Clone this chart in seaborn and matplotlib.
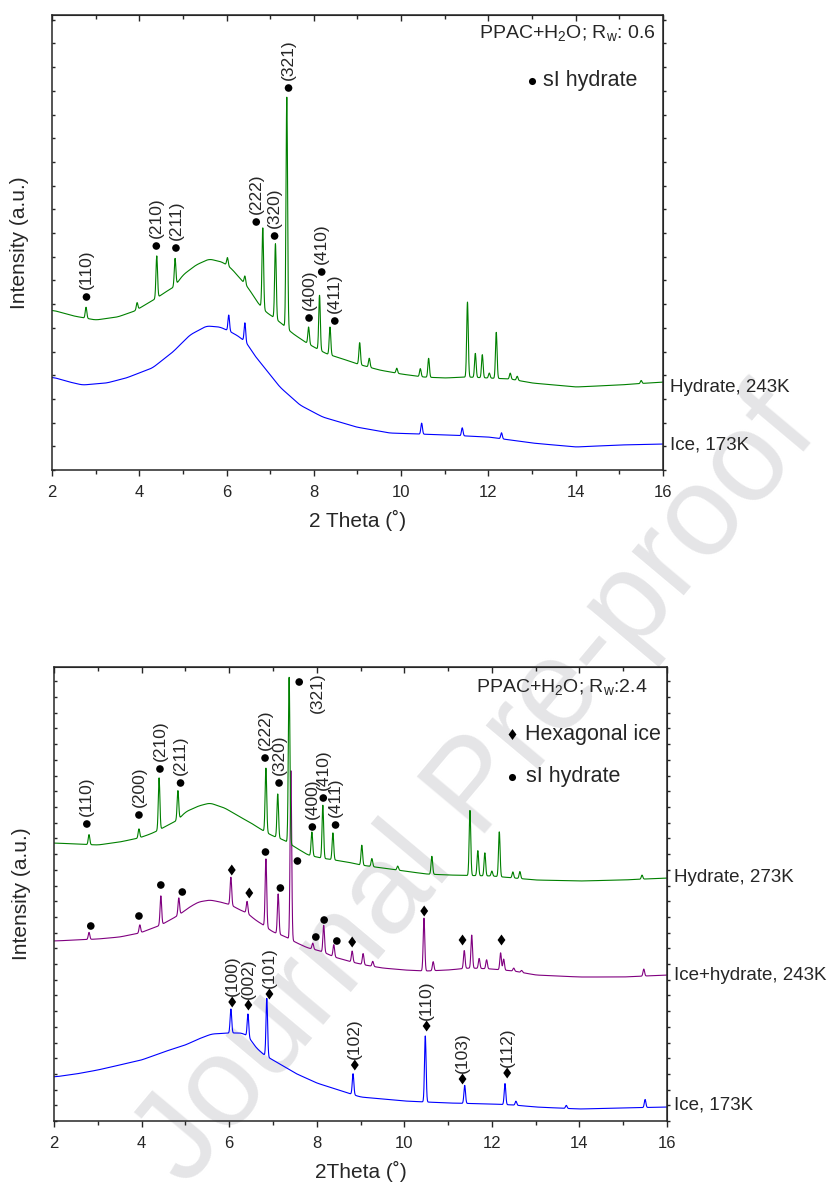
import numpy as np
import pandas as pd
import matplotlib
matplotlib.use("Agg")
import matplotlib.pyplot as plt
import seaborn as sns
from matplotlib.ticker import MultipleLocator
from matplotlib.path import Path

# ---------------- data ----------------
# Top panel (PPAC+H2O, Rw 0.6)
top_hyd_bg_x = [2.0, 2.5, 3.0, 3.5, 3.9, 4.2, 4.4, 4.6, 4.8, 5.0, 5.3, 5.6, 5.9, 6.1, 6.3, 6.5, 6.7, 6.9,
                7.1, 7.3, 7.5, 7.8, 8.0, 8.3, 8.6, 9.0, 9.5, 10.0, 10.5, 11.0, 11.5, 12.0, 12.5, 13.0, 14.0, 15.0, 16.0]
top_hyd_bg_y = [160, 154, 150, 153, 159, 167, 172, 178, 183, 195, 205, 211, 208, 202, 192, 182, 168, 158,
                152, 145, 137, 128, 123, 116, 112, 106, 100, 96, 93, 92, 93, 92, 91, 87, 83, 85, 88]
top_hyd_pk_x = [2.78, 3.95, 4.40, 4.82, 6.02, 6.42, 6.83, 7.12, 7.38, 7.88, 8.13, 8.37, 9.05, 9.27, 9.90,
                10.44, 10.63, 11.52, 11.70, 11.86, 12.02, 12.18, 12.50, 12.66, 15.50]
top_hyd_pk_h = [11, 7, 42, 27, 8, 8, 81, 75, 231, 17, 55, 28, 22, 9, 5, 8, 19, 75, 24, 23, 5, 46, 6, 4, 3]

top_ice_bg_x = [2.0, 2.4, 2.7, 3.25, 3.7, 4.3, 4.77, 5.16, 5.54, 5.85, 6.1, 6.3, 6.5, 6.6, 6.91, 7.22, 7.68,
                8.2, 8.97, 9.73, 10.4, 11.0, 11.5, 12.0, 12.5, 13.0, 14.0, 15.0, 16.0]
top_ice_bg_y = [93, 88, 85, 87, 92, 102, 118, 135, 144, 143, 138, 133, 125, 117, 100, 83, 65,
                53, 43, 37, 36, 35, 34, 33, 30, 27, 23, 25, 26]
top_ice_pk_x = [6.05, 6.42, 10.47, 11.40, 12.30]
top_ice_pk_h = [16, 19, 11, 8, 6]

top_dot_x = [2.79, 4.39, 4.84, 6.68, 7.10, 7.42, 7.89, 8.18, 8.48]
top_dot_y = [173, 224, 222, 248, 234, 382, 152, 198, 149]
top_dot_lab = ["(110)", "(210)", "(211)", "(222)", "(320)", "(321)", "(400)", "(410)", "(411)"]

top_curve_names = ["Hydrate, 243K", "Ice, 173K"]
top_curve_name_y = [83, 25]

# Bottom panel (PPAC+H2O, Rw 2.4)
bot_hyd_bg_x = [2.0, 2.5, 3.0, 3.5, 3.94, 4.2, 4.4, 4.6, 4.83, 5.0, 5.3, 5.56, 5.9, 6.25, 6.5, 6.75, 7.0, 7.25,
                7.5, 7.8, 8.1, 8.4, 8.7, 9.0, 9.5, 10.0, 10.5, 11.0, 12.0, 12.5, 13.0, 14.0, 15.0, 16.0]
bot_hyd_bg_y = [278, 277, 276, 279, 283, 287, 291, 296, 301, 309, 315, 318, 313, 304, 298, 291, 285, 281,
                274, 266, 263, 261, 259, 256, 253, 250, 247, 246, 245, 243, 241, 240, 241, 243]
bot_hyd_pk_x = [2.80, 3.94, 4.40, 4.83, 6.84, 7.11, 7.37, 7.89, 8.14, 8.37, 9.03, 9.26, 9.85, 10.63,
                11.50, 11.68, 11.84, 12.00, 12.17, 12.48, 12.64, 15.43]
bot_hyd_pk_h = [10, 9, 52, 29, 64, 44, 167, 24, 53, 27, 20, 8, 4, 18, 65, 25, 23, 5, 45, 6, 7, 4]

bot_mix_bg_x = [2.0, 2.5, 3.0, 3.5, 3.96, 4.2, 4.44, 4.65, 4.85, 5.1, 5.3, 5.56, 5.8, 6.04, 6.25, 6.41, 6.6,
                6.78, 7.0, 7.25, 7.55, 7.8, 8.0, 8.2, 8.4, 8.8, 9.1, 9.5, 10.0, 10.5, 11.0, 11.5, 12.0,
                12.5, 13.0, 14.0, 15.0, 16.0]
bot_mix_bg_y = [180, 181, 182, 184, 188, 192, 196, 201, 206, 214, 219, 221, 219, 216, 211, 208, 201,
                196, 189, 185, 178, 173, 171, 168, 164, 159, 156, 153, 151, 150, 151, 153, 152,
                150, 146, 144, 144, 146]
bot_mix_pk_x = [2.80, 3.96, 4.44, 4.85, 6.04, 6.41, 6.84, 7.12, 7.41, 7.91, 8.16, 8.39, 8.81, 9.06, 9.28,
                10.45, 10.66, 11.37, 11.54, 11.71, 11.88, 12.20, 12.27, 12.50, 12.68, 15.47]
bot_mix_pk_h = [7, 8, 29, 17, 28, 12, 68, 40, 170, 6, 27, 12, 11, 11, 5, 53, 9, 18, 33, 10, 9, 17, 11, 3, 2, 7]

bot_ice_bg_x = [2.0, 2.5, 3.0, 3.5, 4.0, 4.5, 5.0, 5.3, 5.6, 6.0, 6.3, 6.45, 6.6, 6.8, 7.0, 7.5, 8.0, 8.5,
                9.0, 10.0, 11.0, 12.0, 12.5, 13.0, 14.0, 15.0, 16.0]
bot_ice_bg_y = [44, 47, 51, 56, 61, 69, 76, 82, 87, 88, 88, 84, 74, 66, 61, 48, 38, 31,
                24, 20, 18, 17, 16, 14, 12, 13, 14]
bot_ice_pk_x = [6.04, 6.43, 6.86, 8.83, 10.48, 11.38, 12.30, 12.55, 13.70, 15.50]
bot_ice_pk_h = [24, 23, 58, 21, 66, 18, 21, 4, 3, 8]

bot_hyd_dot_x = [2.75, 3.94, 4.42, 4.89, 6.82, 7.14, 7.60, 7.90, 8.15, 8.43]
bot_hyd_dot_y = [297, 306, 352, 338, 363, 338, 439, 294, 323, 296]
bot_hyd_dot_lab = ["(110)", "(200)", "(210)", "(211)", "(222)", "(320)", "(321)", "(400)", "(410)", "(411)"]

bot_mix_dot_x = [2.84, 3.94, 4.44, 4.93, 6.83, 7.17, 7.56, 7.98, 8.17, 8.46]
bot_mix_dot_y = [195, 205, 236, 229, 269, 233, 260, 184, 201, 180]
bot_mix_dia_x = [6.06, 6.46, 8.81, 10.455, 11.33, 12.22]
bot_mix_dia_y = [251, 228, 179, 210, 181, 181]

bot_ice_dia_x = [6.07, 6.44, 6.92, 8.87, 10.51, 11.33, 12.35]
bot_ice_dia_y = [119, 116, 127, 56, 95, 42, 48]
bot_ice_dia_lab = ["(100)", "(002)", "(101)", "(102)", "(110)", "(103)", "(112)"]

bot_curve_names = ["Hydrate, 273K", "Ice+hydrate, 243K", "Ice, 173K"]
bot_curve_name_y = [243, 146, 16]

x_ticks = [2, 4, 6, 8, 10, 12, 14, 16]

# ---------------- style ----------------
sns.set_style("ticks")
plt.rcParams["font.family"] = ["Liberation Sans", "DejaVu Sans"]
plt.rcParams["mathtext.default"] = "regular"

GREEN, BLUE, PURPLE = "#008000", "#0000FF", "#800080"
grid = np.arange(2.0, 16.0001, 0.004)
DIAMOND = Path([(0, 1), (0.72, 0), (0, -1), (-0.72, 0), (0, 1)],
               [Path.MOVETO, Path.LINETO, Path.LINETO, Path.LINETO, Path.CLOSEPOLY])


def pattern(bx, by, px, ph, w=0.018):
    base = np.interp(grid, bx, by)
    # soften the corners of the background trace
    y = pd.Series(base).rolling(41, center=True, min_periods=1).mean().to_numpy()
    for p, h in zip(px, ph):
        y = y + h * np.exp(-0.5 * ((grid - p) / w) ** 2)
    return y


def setup_axes(ax, ymax, ystep, xlabel):
    ax.set_xlim(2, 16)
    ax.set_ylim(0, ymax)
    ax.set_xticks(x_ticks)
    ax.xaxis.set_minor_locator(MultipleLocator(1))
    ax.yaxis.set_major_locator(MultipleLocator(ystep))
    ax.set_yticklabels([])
    ax.tick_params(axis="x", which="major", direction="out", length=4, width=1.0,
                   labelsize=12, pad=7, top=False)
    ax.tick_params(axis="x", which="minor", direction="out", length=2.6, width=1.0, top=False)
    ax.tick_params(axis="y", which="major", direction="in", length=2.5, width=1.0, right=False)
    for s in ax.spines.values():
        s.set_visible(True)
        s.set_linewidth(1.1)
    sec = ax.secondary_xaxis("top")
    sec.set_xticks(x_ticks)
    sec.xaxis.set_minor_locator(MultipleLocator(1))
    sec.tick_params(axis="x", which="major", direction="in", length=4, width=1.0, labeltop=False)
    sec.tick_params(axis="x", which="minor", direction="in", length=2.6, width=1.0)
    secy = ax.secondary_yaxis("right")
    secy.yaxis.set_major_locator(MultipleLocator(ystep))
    secy.tick_params(axis="y", direction="out", length=2.5, width=1.0, labelright=False)
    ax.set_xlabel(xlabel, fontsize=15, labelpad=7)
    ax.set_ylabel("Intensity (a.u.)", fontsize=15, labelpad=13)
    ax.set_zorder(2)
    ax.patch.set_alpha(0)


def draw_curve(ax, y, color):
    sns.lineplot(x=grid, y=y, ax=ax, color=color, linewidth=0.8, estimator=None,
                 sort=False, legend=False)


def dots(ax, xs, ys, marker="o", s=30):
    sns.scatterplot(x=xs, y=ys, ax=ax, marker=marker, s=s, color="black",
                    edgecolor="none", linewidth=0, legend=False, zorder=5)


def labels(ax, xs, ys, labs, dy=6):
    for x, y, t in zip(xs, ys, labs):
        ax.annotate(t, (x, y), xytext=(0, dy), textcoords="offset points", rotation=90,
                    ha="center", va="bottom", fontsize=12.5)


def curve_names(ax, names, ys):
    for n, y in zip(names, ys):
        ax.annotate(n, (16, y), xytext=(5, 0), textcoords="offset points", ha="left",
                    va="center", fontsize=13.5, annotation_clip=False)


fig = plt.figure(figsize=(8.31, 11.84), dpi=100)

# watermark
fig.text(0.575, 1 - 790 / 1184, "Journal Pre-proof", rotation=50, fontsize=92,
         color="#e5e5e7", ha="center", va="center", rotation_mode="anchor", zorder=0.5)

# ---------------- top panel ----------------
ax1 = fig.add_axes([52 / 831, 1 - 470 / 1184, 611 / 831, 455 / 1184])
draw_curve(ax1, pattern(top_ice_bg_x, top_ice_bg_y, top_ice_pk_x, top_ice_pk_h), BLUE)
draw_curve(ax1, pattern(top_hyd_bg_x, top_hyd_bg_y, top_hyd_pk_x, top_hyd_pk_h), GREEN)
dots(ax1, top_dot_x, top_dot_y)
labels(ax1, top_dot_x, top_dot_y, top_dot_lab)
curve_names(ax1, top_curve_names, top_curve_name_y)
setup_axes(ax1, 455, 23.7, "2 Theta (\u02da)")
ax1.text(0.9885, 0.960, r"PPAC+H$_2$O; R$_w$: 0.6", transform=ax1.transAxes,
         ha="right", va="center", fontsize=14)
ax1.scatter([0.7856], [0.855], transform=ax1.transAxes, s=26, color="black", marker="o",
            linewidth=0, zorder=5)
ax1.text(0.8036, 0.855, "sI hydrate", transform=ax1.transAxes, ha="left", va="center",
         fontsize=15.5)

# ---------------- bottom panel ----------------
ax2 = fig.add_axes([54 / 831, 1 - 1121 / 1184, 613 / 831, 454 / 1184])
draw_curve(ax2, pattern(bot_ice_bg_x, bot_ice_bg_y, bot_ice_pk_x, bot_ice_pk_h), BLUE)
draw_curve(ax2, pattern(bot_mix_bg_x, bot_mix_bg_y, bot_mix_pk_x, bot_mix_pk_h), PURPLE)
draw_curve(ax2, pattern(bot_hyd_bg_x, bot_hyd_bg_y, bot_hyd_pk_x, bot_hyd_pk_h), GREEN)

dots(ax2, bot_hyd_dot_x, bot_hyd_dot_y)
for x, y, t in zip(bot_hyd_dot_x, bot_hyd_dot_y, bot_hyd_dot_lab):
    if t == "(321)" and y > 400:
        ax2.annotate(t, (x, y), xytext=(13, 7), textcoords="offset points", rotation=90,
                     ha="center", va="top", fontsize=12.5)
    else:
        ax2.annotate(t, (x, y), xytext=(0, 6), textcoords="offset points", rotation=90,
                     ha="center", va="bottom", fontsize=12.5)
dots(ax2, bot_mix_dot_x, bot_mix_dot_y)
dots(ax2, bot_mix_dia_x, bot_mix_dia_y, marker=DIAMOND, s=62)
dots(ax2, bot_ice_dia_x, bot_ice_dia_y, marker=DIAMOND, s=62)
labels(ax2, bot_ice_dia_x, bot_ice_dia_y, bot_ice_dia_lab, dy=4.5)
curve_names(ax2, bot_curve_names, bot_curve_name_y)
setup_axes(ax2, 454, 15.7, "2Theta (\u02da)")
ax2.text(0.969, 0.956, r"PPAC+H$_2$O; R$_w$:2.4", transform=ax2.transAxes,
         ha="right", va="center", fontsize=14)
ax2.scatter([0.747], [0.852], transform=ax2.transAxes, s=62, color="black", marker=DIAMOND,
            linewidth=0, zorder=5)
ax2.text(0.768, 0.852, "Hexagonal ice", transform=ax2.transAxes, ha="left", va="center",
         fontsize=15.5)
ax2.scatter([0.747], [0.758], transform=ax2.transAxes, s=26, color="black", marker="o",
            linewidth=0, zorder=5)
ax2.text(0.770, 0.758, "sI hydrate", transform=ax2.transAxes, ha="left", va="center",
         fontsize=15.5)

fig.savefig("out.png", dpi=100)
